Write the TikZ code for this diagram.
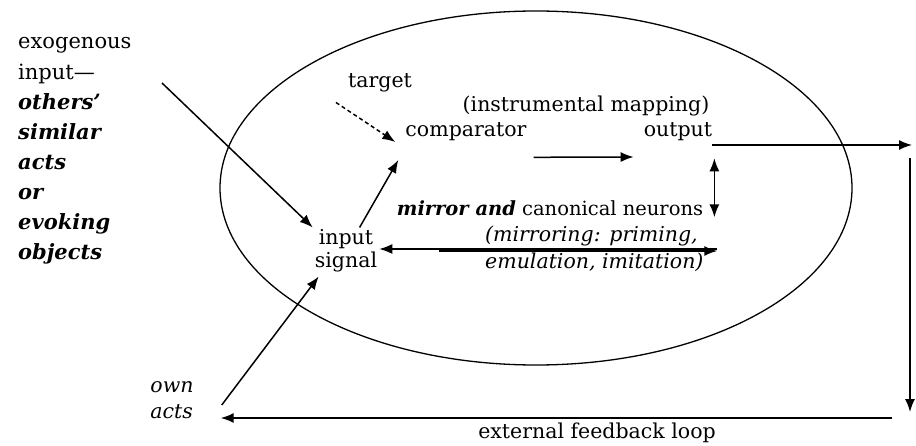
\documentclass[tikz,border=0pt]{standalone}
\usepackage{fontspec}
\setmainfont{DejaVu Serif}
\usetikzlibrary{arrows.meta}
\begin{document}
\begin{tikzpicture}[x=1pt,y=-1pt,
  lbl/.style={inner sep=2pt, font=\fontsize{20.5}{23}\selectfont},
  arr/.style={-{Latex[length=13pt,width=10pt]}, line width=1.5pt},
  dbl/.style={{Latex[length=13pt,width=10pt]}-{Latex[length=13pt,width=10pt]}, line width=1.5pt}]
\useasboundingbox (0,0) rectangle (916,446);
\draw[line width=1.3pt] (536,188) ellipse [x radius=316, y radius=177];

\node[lbl, anchor=west, align=left, font=\fontsize{21}{30.1}\selectfont] (exo) at (16,151)
  {exogenous\\input---\\\textbf{\textit{others'}}\\\textbf{\textit{similar}}\\\textbf{\textit{acts}}\\\textbf{\textit{or}}\\\textbf{\textit{evoking}}\\\textbf{\textit{objects}}};
\node[lbl] (tgt) at (380,83) {target};
\node[lbl] (cmp) at (466,132) {comparator};
\node[lbl] (ins) at (586,106) {(instrumental mapping)};
\node[lbl] (out) at (678,132) {output};
\node[lbl, align=center] (in) at (346,251) {input\\signal};
\node[lbl, font=\fontsize{19.5}{23}\selectfont] (mir) at (550,208) {\textbf{\textit{mirror and}} canonical neurons};
\node[lbl, align=left, anchor=west, font=\fontsize{20.5}{27}\selectfont] (mir2) at (483,248.5)
  {\textit{(mirroring: priming,}\\\textit{emulation, imitation)}};
\node[lbl, align=left, font=\fontsize{20.5}{26}\selectfont] (own) at (172,400) {\textit{own}\\\textit{acts}};
\node[lbl] (efl) at (597,433) {external feedback loop};

\coordinate (exostart) at (162,83);
\coordinate (c1) at (912,145);
\coordinate (c2) at (910,158);
\coordinate (c3) at (910,412);
\coordinate (c4) at (892,418);

\draw[arr] (exostart) -- (in.north west);
\draw[arr] (in.60) -- ([shift={(-5,28)}]cmp.west);
\draw[arr, dash pattern=on 4pt off 3pt] ([shift={(-10,8)}]tgt.south west) -- ([shift={(-8,10)}]cmp.west);
\draw[arr] ([shift={(5,14)}]cmp.south east) -- ([shift={(-8,25)}]out.west);
\draw[arr] ([shift={(-2,13)}]out.east) -- (c1);
\draw[arr] (c2) -- (c3);
\draw[arr] (c4) -- ([shift={(25,18)}]own.east);
\draw[arr] ([shift={(26,5)}]own.east) -- ([shift={(6,2)}]in.south west);
\draw[dbl] ([shift={(0,15)}]out.south east) -- ([shift={(0,74)}]out.south east);
\draw[arr] ([shift={(338,-2)}]in.east) -- ([shift={(0,-2)}]in.east);
\draw[arr, line width=1.8pt] ([shift={(60,0)}]in.east) -- ([shift={(338,0)}]in.east);
\end{tikzpicture}
\end{document}
